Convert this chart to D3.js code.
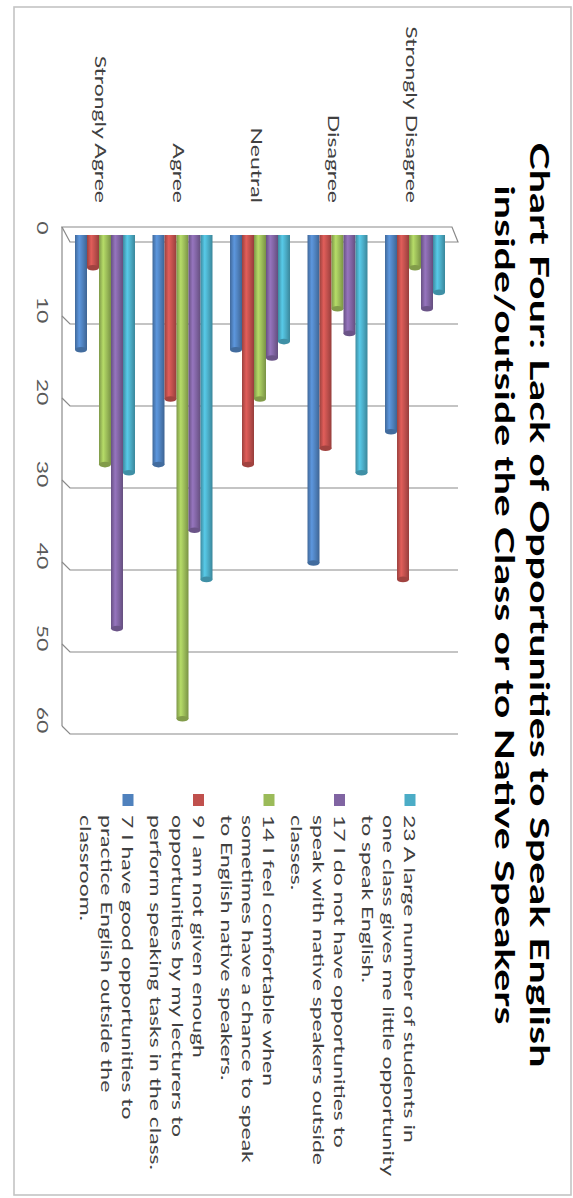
<!DOCTYPE html>
<html>
<head>
<meta charset="utf-8">
<script src="https://cdn.jsdelivr.net/npm/d3@7"></script>
<style>
  html, body { margin: 0; padding: 0; background: #ffffff; }
  svg { display: block; }
</style>
</head>
<body>
<svg id="chart" width="573" height="1198"></svg>
<script>
// ---------------- DATA ----------------
const categories = ["Strongly Disagree", "Disagree", "Neutral", "Agree", "Strongly Agree"];
const seriesNames = ["7", "9", "14", "17", "23"];
const seriesColors = ["#4F81BD", "#C0504D", "#9BBB59", "#8064A2", "#4BACC6"];
const values7  = [24, 40, 14, 28, 14];
const values9  = [42, 26, 28, 20, 4];
const values14 = [4, 9, 20, 59, 28];
const values17 = [9, 12, 15, 36, 48];
const values23 = [7, 29, 13, 42, 29];
const tickValues = [0, 10, 20, 30, 40, 50, 60];
const titleLines = ["Chart Four: Lack of Opportunities to Speak English",
                    "inside/outside  the Class or to Native Speakers"];
const legend7  = ["7 I have good opportunities to", "practice English outside the", "classroom."];
const legend9  = ["9 I am not given enough", "opportunities by my lecturers to", "perform speaking tasks in the class."];
const legend14 = ["14 I feel comfortable when", "sometimes have a chance to speak", "to English native speakers."];
const legend17 = ["17 I do not have opportunities to", "speak with native speakers outside", "classes."];
const legend23 = ["23 A large number of students in", "one class gives me little opportunity", "to speak English."];

const seriesValues = [values7, values9, values14, values17, values23];
const seriesLegend = [legend7, legend9, legend14, legend17, legend23];
const series = seriesNames.map((n, i) => ({ name: n, color: seriesColors[i], values: seriesValues[i], legend: seriesLegend[i], idx: i }));

// ---------------- LAYOUT (drawn in unrotated frame, then rotated 90° cw) ----------------
const W = 1198, H = 573;
const FONT = "Lato, 'Open Sans', sans-serif";
const svg = d3.select("#chart");
const root = svg.append("g").attr("transform", `translate(${H},0) rotate(90)`);
const defs = svg.append("defs");

// value scale (front plane)
const x = d3.scaleLinear().domain([0, 60]).range([242, 734]);
const depth = 7;       // bar centre depth offset
const floorY = 503, floorBackY = 511, wallEndY = 115;

// category scale (vertical in unrotated frame)
const y = d3.scaleBand().domain(categories).range([128, 498]).paddingInner(0.226).paddingOuter(0);
// series order inside a group: top -> bottom = 23,17,14,9,7
const ySub = d3.scaleBand().domain(series.map(s => s.name).slice().reverse()).range([0, y.bandwidth()]);

// outer frame
root.append("rect").attr("x", 7).attr("y", 2).attr("width", 1188).attr("height", 557)
  .attr("fill", "none").attr("stroke", "#c4c4c4").attr("stroke-width", 1.6);

// text measuring helper for horizontal stretch
function measure(str, size, weight) {
  const t = root.append("text").attr("font-family", FONT).attr("font-size", size)
    .attr("font-weight", weight).text(str);
  const w = t.node().getComputedTextLength();
  t.remove();
  return w;
}
const FS = 15.5;
const S = 328 / measure(legend23[0], FS, "normal");
const TFS = 26;
const ST = 925 / measure(titleLines[0], TFS, "bold");

function stretchedText(g, tx, ty, str, opts) {
  return g.append("text")
    .attr("transform", `translate(${tx},${ty}) scale(${opts.s},1)`)
    .attr("font-family", FONT)
    .attr("font-size", opts.size)
    .attr("font-weight", opts.weight || "normal")
    .attr("fill", opts.fill || "#404040")
    .attr("text-anchor", opts.anchor || "start")
    .text(str);
}

// title
titleLines.forEach((line, i) => {
  stretchedText(root, 605, 43 + i * 35, line, { s: ST, size: TFS, weight: "bold", fill: "#000", anchor: "middle" });
});

// gridlines
const grid = root.append("g").attr("stroke", "#8a8a8a").attr("stroke-width", 1.2).attr("fill", "none");
tickValues.filter(v => v > 0).forEach(v => {
  grid.append("path").attr("d", `M${x(v) - 8},${floorBackY} L${x(v)},${floorY} L${x(v)},${wallEndY}`);
});
// floor edge line
grid.append("path").attr("d", `M${x(0) - 15},${floorBackY} L${x(60) - 8},${floorBackY}`);
// zero plane
grid.append("path").attr("fill", "#fff")
  .attr("d", `M${x(0) - 15},${floorBackY} L${x(0) - 15},${wallEndY + 6} L${x(0)},${wallEndY} L${x(0)},${floorY} Z`);

// tick labels
const tickG = root.append("g");
tickValues.forEach(v => {
  stretchedText(tickG, x(v) - 14, 536, String(v), { s: S, size: FS, fill: "#595959", anchor: "middle" });
});

// category labels
categories.forEach(c => {
  stretchedText(root, 203, y(c) + y.bandwidth() / 2 + 9.5, c, { s: S, size: FS, fill: "#404040", anchor: "end" });
});

// gradients
series.forEach(s => {
  const c = d3.color(s.color);
  const gr = defs.append("linearGradient").attr("id", "g" + s.idx)
    .attr("x1", 0).attr("y1", 0).attr("x2", 0).attr("y2", 1);
  gr.append("stop").attr("offset", "0%").attr("stop-color", c.darker(0.7));
  gr.append("stop").attr("offset", "35%").attr("stop-color", c);
  gr.append("stop").attr("offset", "65%").attr("stop-color", c.brighter(0.45));
  gr.append("stop").attr("offset", "100%").attr("stop-color", c.darker(0.6));
});

// bars (cylinders)
const bars = root.append("g");
series.forEach(s => {
  const g = bars.append("g");
  categories.forEach((cat, ci) => {
    const v = s.values[ci];
    const y0 = y(cat) + ySub(s.name);
    const bw = ySub.bandwidth();
    const xs = x(0) - depth, xe = x(v) - depth;
    g.append("rect").attr("x", xs).attr("y", y0).attr("width", xe - xs).attr("height", bw)
      .attr("fill", `url(#g${s.idx})`);
    g.append("ellipse").attr("cx", xe).attr("cy", y0 + bw / 2).attr("rx", 2.8).attr("ry", bw / 2)
      .attr("fill", d3.color(s.color).darker(0.5));
  });
});

// legend (top -> bottom: 23, 17, 14, 9, 7)
const legendOrder = series.slice().reverse();
const legG = root.append("g");
legendOrder.forEach((s, i) => {
  const cy = 163 + i * 70.5;
  legG.append("rect").attr("x", 794).attr("y", cy - 5.5).attr("width", 12).attr("height", 11)
    .attr("fill", s.color);
  s.legend.forEach((line, j) => {
    stretchedText(legG, 815, cy + j * 21.3 + 5.6, line, { s: S, size: FS, fill: "#404040" });
  });
});
</script>
</body>
</html>
